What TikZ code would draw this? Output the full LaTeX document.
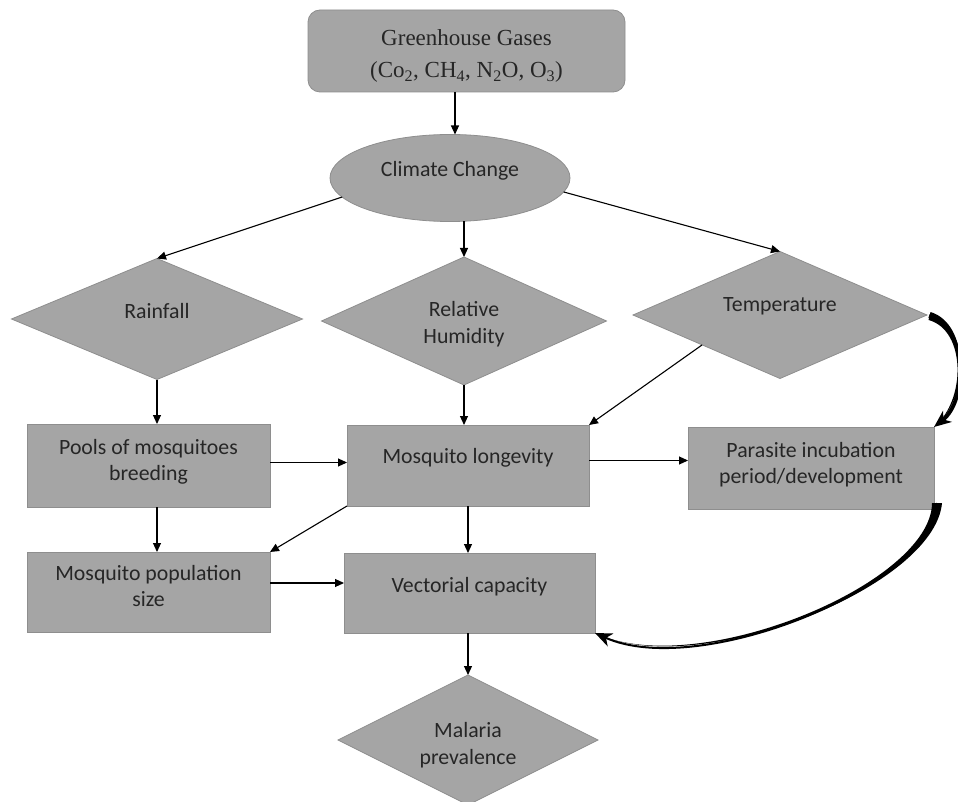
\documentclass[tikz,border=0pt]{standalone}
\usepackage{fontspec}
\setmainfont{Carlito}
\newfontfamily\ghfont{Liberation Serif}
\usetikzlibrary{shapes.geometric,arrows.meta,calc}
\definecolor{boxfill}{HTML}{A5A5A5}
\definecolor{boxline}{HTML}{8E8E8E}
\definecolor{txt}{HTML}{262626}
\tikzset{
  base/.style={draw=boxline, fill=boxfill, line width=0.8pt, inner sep=0pt, outer sep=0pt, text=txt, align=center, font=\fontsize{21.8}{26.5}\selectfont},
  dbox/.style={base, diamond, aspect=2},
  conn/.style={-{Triangle[length=9pt,width=8pt]}, line width=1.1pt, black},
  bigconn/.style={-{Stealth[length=17pt,width=14pt,inset=5pt]}, line width=#1, black},
}
\begin{document}
\begin{tikzpicture}[x=1pt,y=-1pt]
\useasboundingbox (0,0) rectangle (958,802);
\fill[white] (0,0) rectangle (958,802);

\node[base, rectangle, rounded corners=12pt, minimum width=317pt, minimum height=82pt, font=\ghfont\fontsize{23}{32}\selectfont, text height=54pt, text depth=0pt] (gh) at (466.5,51)
  {Greenhouse Gases\\(Co\textsubscript{2}, CH\textsubscript{4}, N\textsubscript{2}O, O\textsubscript{3})};
\node[base, ellipse, minimum width=240pt, minimum height=87pt, text depth=18pt] (cc) at (450,178) {Climate Change};

\node[dbox, minimum width=291pt, minimum height=121pt, text depth=16pt] (rain) at (157,319) {Rainfall};
\node[dbox, minimum width=285pt, minimum height=128pt, text height=48pt] (rh) at (464,321) {Relative\\Humidity};
\node[dbox, minimum width=294pt, minimum height=127pt, text depth=20pt] (temp) at (780,315) {Temperature};

\node[base, rectangle, minimum width=243pt, minimum height=83pt, text depth=11pt] (pools) at (148.5,465.5) {Pools of mosquitoes\\breeding};
\node[base, rectangle, minimum width=242pt, minimum height=81pt, text depth=20pt] (long) at (468,465.5) {Mosquito longevity};
\node[base, rectangle, minimum width=246pt, minimum height=82pt, text depth=10pt] (par) at (811,468) {Parasite incubation\\period/development};
\node[base, rectangle, minimum width=243pt, minimum height=80pt, text depth=12pt] (pop) at (148.5,592) {Mosquito population\\size};
\node[base, rectangle, minimum width=251pt, minimum height=80pt, text depth=17pt] (vec) at (469.5,593) {Vectorial capacity};
\node[dbox, minimum width=260pt, minimum height=130pt, text height=52pt] (mal) at (468,740) {Malaria\\prevalence};

% connectors
\draw[conn] (gh.south -| cc.north) ++(5,0) coordinate (ghs) -- (ghs |- cc.north);
\draw[conn] (cc.190) -- (rain.north);
\draw[conn] (cc.south -| rh.north) -- (rh.north);
\draw[conn] (cc.353) -- (temp.north);
\draw[conn] (rain.south) -- (rain.south |- pools.north);
\draw[conn] (rh.south) -- (rh.south |- long.north);
\draw[conn] (temp.201) -- (long.north east);
\draw[conn] ($(pools.east)+(0,-3)$) coordinate (pe) -- (pe -| long.west);
\draw[conn] ($(long.east)+(0,-5)$) coordinate (le) -- (le -| par.west);
\draw[conn] (rain.south |- pools.south) -- (rain.south |- pop.north);
\draw[conn] (long.south west) -- (pop.north east);
\draw[conn] (long.south) -- (long.south |- vec.north);
\draw[conn] ($(pop.east)+(0,-9)$) coordinate (pp) -- (pp -| vec.west);
\draw[conn] (long.south |- vec.south) -- (mal.north);

% thick curved arrows (tapered)
\draw[bigconn=3.8pt] ($(temp.east)+(2,1)$) .. controls (968,327) and (968,400) .. (par.north east);
\fill[black] (928.5,320) .. controls (966,330) and (966.5,400) .. (934,427)
  .. controls (969.5,400) and (970,324) .. (930.5,312) -- cycle;
\draw[bigconn=2pt] ($(par.south east)+(3,-6)$) .. controls (933,585) and (700,680) .. (vec.south east);
\fill[black] (932,503) .. controls (931.5,583) and (700,679.5) .. (597,634)
  .. controls (700,680.5) and (934.5,587) .. (942,503) -- cycle;
\end{tikzpicture}
\end{document}
